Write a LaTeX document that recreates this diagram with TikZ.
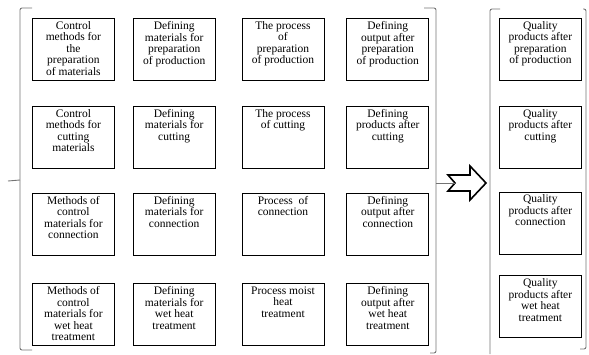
\documentclass[tikz,border=0pt]{standalone}
\usepackage{fontspec}
\setmainfont{Liberation Serif}
\usetikzlibrary{positioning}
\tikzstyle{stage} = [rectangle, draw=black, line width=0.8pt, inner sep=2pt, minimum width=82pt, minimum height=62pt, font=\fontsize{11.5}{11.5}\selectfont]
\tikzstyle{brace} = [draw=black!55, line width=0.9pt, rounded corners=2pt]
\tikzstyle{bigarrow} = [draw=black, line width=1.6pt, fill=white, line join=miter]
\newcommand{\stagetext}[1]{\parbox[c][56pt][t]{78pt}{\centering #1}}

\begin{document}
\begin{tikzpicture}[x=1pt, y=1pt, node distance=25pt]
	\useasboundingbox (0,0) rectangle (589,-354);

	% preparation of production
	\node (ctrl_prep) [stage, anchor=north west] at (32,-18) {\stagetext{Control\\methods for\\the\\preparation\\of materials}};
	\node (mat_prep) [stage, right=18pt of ctrl_prep] {\stagetext{Defining\\materials for\\preparation\\of production}};
	\node (proc_prep) [stage, right=26pt of mat_prep] {\stagetext{The process\\of\\preparation\\of production}};
	\node (out_prep) [stage, right=22pt of proc_prep] {\stagetext{Defining\\output after\\preparation\\of production}};

	% cutting
	\node (ctrl_cut) [stage, below=of ctrl_prep] {\stagetext{Control\\methods for\\cutting\\materials}};
	\node (mat_cut) [stage, below=of mat_prep] {\stagetext{Defining\\materials for\\cutting}};
	\node (proc_cut) [stage, below=of proc_prep] {\stagetext{The process\\of cutting}};
	\node (out_cut) [stage, below=of out_prep] {\stagetext{Defining\\products after\\cutting}};

	% connection
	\node (ctrl_conn) [stage, below=24pt of ctrl_cut] {\stagetext{Methods of\\control\\materials for\\connection}};
	\node (mat_conn) [stage, below=24pt of mat_cut] {\stagetext{Defining\\materials for\\connection}};
	\node (proc_conn) [stage, below=24pt of proc_cut] {\stagetext{Process~~of\\connection}};
	\node (out_conn) [stage, below=24pt of out_cut] {\stagetext{Defining\\output after\\connection}};

	% wet heat treatment
	\node (ctrl_wet) [stage, below=28pt of ctrl_conn] {\stagetext{Methods of\\control\\materials for\\wet heat\\treatment}};
	\node (mat_wet) [stage, below=28pt of mat_conn] {\stagetext{Defining\\materials for\\wet heat\\treatment}};
	\node (proc_wet) [stage, below=28pt of proc_conn] {\stagetext{Process moist\\heat\\treatment}};
	\node (out_wet) [stage, below=28pt of out_conn] {\stagetext{Defining\\output after\\wet heat\\treatment}};

	% quality products
	\node (qual_prep) [stage, anchor=north west] at (499,-18) {\stagetext{Quality\\products after\\preparation\\of production}};
	\node (qual_cut) [stage, below=of qual_prep] {\stagetext{Quality\\products after\\cutting}};
	\node (qual_conn) [stage, below=23pt of qual_cut] {\stagetext{Quality\\products after\\connection}};
	\node (qual_wet) [stage, below=21pt of qual_conn] {\stagetext{Quality\\products after\\wet heat\\treatment}};

	% brackets
	\draw [brace] (32,-8) -- (20,-8) -- (20,-350) -- (32,-350);
	\draw [brace, rounded corners=0pt] (20,-180) -- (8,-181);
	\draw [brace] (424,-8) -- (436,-8) -- (436,-353) -- (430,-353);
	\draw [brace] (500,-9) -- (490,-9) -- (490,-354);
	\draw [brace] (583,-9) -- (586,-9) -- (586,-349) -- (580,-349);

	% arrow
	\coordinate (gather) at (436,-183);
	\coordinate (notch) at (455,-183);
	\draw [bigarrow] (448,-175) -- (470,-175) -- (470,-166) -- (486,-183) -- (470,-200) -- (470,-191) -- (448,-191) -- (notch) -- cycle;
	\draw [brace, rounded corners=0pt] (gather) -- (notch);

\end{tikzpicture}
\end{document}
